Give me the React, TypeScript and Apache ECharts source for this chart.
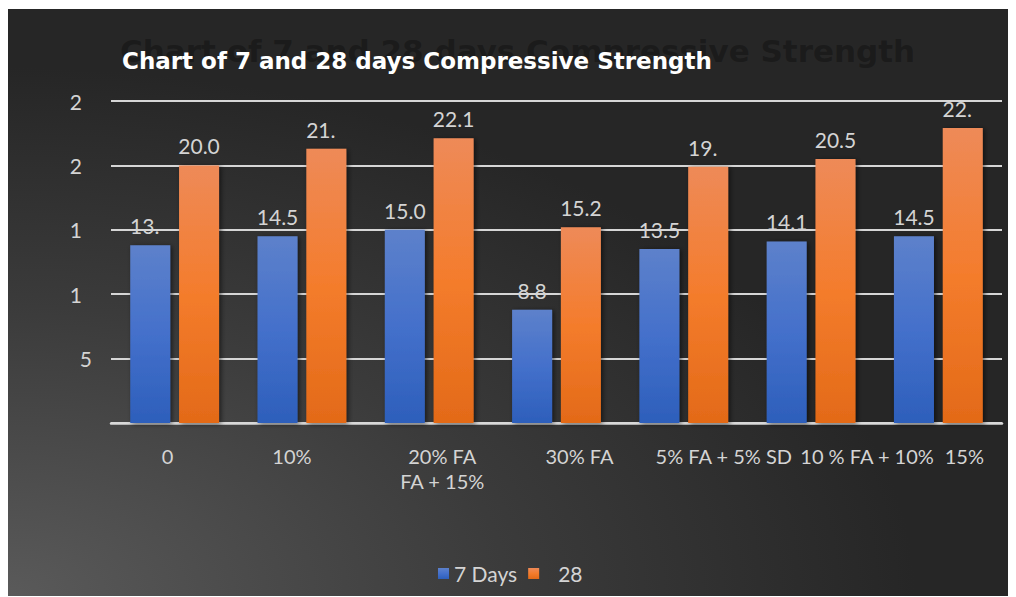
import React, { useEffect, useRef } from "react";
import * as echarts from "echarts";

// Mix designs on the category axis
const categories = ["0", "10%", "20% FA\nFA + 15%", "30% FA", "5% FA + 5% SD", "10 % FA + 10%", "15%"];

// Compressive strength after 7 and 28 days of curing
const days7 = [13.8, 14.5, 15.0, 8.8, 13.5, 14.1, 14.5];
const days28 = [20.0, 21.3, 22.1, 15.2, 19.9, 20.5, 22.9];

// Value labels as printed above the bars (some are cut short)
const days7Text = ["13.", "14.5", "15.0", "8.8", "13.5", "14.1", "14.5"];
const days28Text = ["20.0", "21.", "22.1", "15.2", "19.", "20.5", "22."];

// Value axis range
const yMin = 0;
const yMax = 25;
const yStep = 5;

const seriesNames = ["7 Days", "28"];
const titleText = "Chart of 7 and 28 days Compressive Strength";

// horizontal nudge of each category label (px, + = right)
const labelShift = [-7, -10, 13, 23, 40, 56, 26];

const FONT = "Lato, 'Open Sans', sans-serif";
const TITLE_FONT = "'DejaVu Sans', sans-serif";
const TEXT = "#d4d4d4";

const blueFill = new echarts.graphic.LinearGradient(0, 0, 0, 1, [
  { offset: 0, color: "#5d81cb" },
  { offset: 0.5, color: "#4470cb" },
  { offset: 1, color: "#2d5fbb" },
]);
const orangeFill = new echarts.graphic.LinearGradient(0, 0, 0, 1, [
  { offset: 0, color: "#ee8a58" },
  { offset: 0.5, color: "#f47c2c" },
  { offset: 1, color: "#e36a18" },
]);

export default function App() {
  const ref = useRef<HTMLDivElement>(null);

  useEffect(() => {
    if (!ref.current) return;
    const chart = echarts.init(ref.current, null, { renderer: "svg" });

    const barShadow = {
      shadowBlur: 5,
      shadowColor: "rgba(0,0,0,0.55)",
      shadowOffsetX: 2,
      shadowOffsetY: 1,
    };

    const makeSeries = (name: string, values: number[], texts: string[], fill: any) => ({
      name,
      type: "bar",
      barWidth: 40,
      barGap: "22%",
      itemStyle: { color: fill, ...barShadow },
      label: {
        show: true,
        position: "top",
        distance: 9,
        color: TEXT,
        fontFamily: FONT,
        fontSize: 21,
        formatter: (p: any) => texts[p.dataIndex],
      },
      data: values.map((v, i) => ({
        value: v,
        // a cut-short label keeps the left edge of the full number
        label: texts[i].endsWith(".") ? { padding: [0, 11, 0, 0] } : {},
      })),
    });

    chart.setOption({
      animation: false,
      backgroundColor: "#262626",
      graphic: [
        {
          type: "rect",
          z: -10,
          silent: true,
          shape: { x: 0, y: 0, width: 1008, height: 588 },
          style: {
            fill: new echarts.graphic.RadialGradient(0, 1, 0.9, [
              { offset: 0, color: "#5a5a5a" },
              { offset: 0.55, color: "#3b3b3b" },
              { offset: 1, color: "#262626" },
            ]),
          },
        },
      ],
      title: [
        {
          text: titleText,
          left: 107,
          top: 21,
          textStyle: {
            color: "rgba(0,0,0,0.3)",
            fontFamily: TITLE_FONT,
            fontWeight: "bold",
            fontSize: 31,
          },
        },
        {
          text: titleText,
          left: 109,
          top: 35,
          textStyle: {
            color: "#ffffff",
            fontFamily: TITLE_FONT,
            fontWeight: "bold",
            fontSize: 23,
          },
        },
      ],
      legend: {
        left: 425,
        top: 549,
        icon: "rect",
        itemWidth: 11,
        itemHeight: 11,
        itemGap: 11,
        textStyle: { color: TEXT, fontFamily: FONT, fontSize: 21 },
        data: [
          { name: seriesNames[0] },
          { name: seriesNames[1], textStyle: { padding: [0, 0, 0, 14] } },
        ],
      },
      grid: { left: 103, right: 14, top: 92, bottom: 174, containLabel: false },
      xAxis: {
        type: "category",
        data: categories.map((c, i) => ({
          value: c,
          textStyle: {
            padding: labelShift[i] >= 0 ? [0, 0, 0, 2 * labelShift[i]] : [0, -2 * labelShift[i], 0, 0],
          },
        })),
        axisTick: { show: false },
        axisLine: { lineStyle: { color: "#d9d9d9", width: 2.5 } },
        axisLabel: {
          interval: 0,
          margin: 20,
          color: TEXT,
          fontFamily: FONT,
          fontSize: 20,
          lineHeight: 25,
        },
      },
      yAxis: {
        type: "value",
        min: yMin,
        max: yMax,
        interval: yStep,
        axisLine: { show: false },
        axisTick: { show: false },
        splitLine: { lineStyle: { color: "#d6d6d6", width: 2 } },
        axisLabel: {
          margin: 19,
          color: TEXT,
          fontFamily: FONT,
          fontSize: 21,
          formatter: (v: number) => {
            if (v === 0) return "";
            const s = String(v);
            return s.length > 1 ? "{cut|" + s.charAt(0) + "}" : s;
          },
          rich: {
            cut: { color: TEXT, fontFamily: FONT, fontSize: 21, padding: [0, 10, 0, 0] },
          },
        },
      },
      series: [
        makeSeries(seriesNames[0], days7, days7Text, blueFill),
        makeSeries(seriesNames[1], days28, days28Text, orangeFill),
      ],
    });

    return () => chart.dispose();
  }, []);

  return (
    <div
      ref={ref}
      style={{ width: 1008, height: 588, position: "relative", top: 1, background: "#262626" }}
    />
  );
}
